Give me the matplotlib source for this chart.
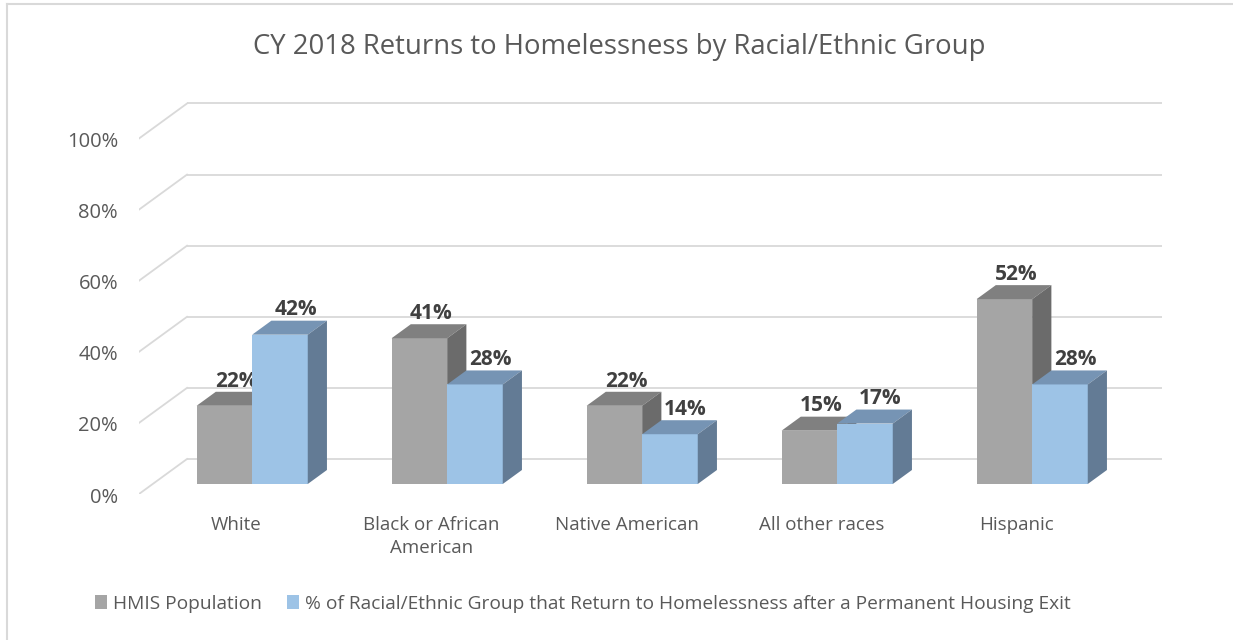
import matplotlib
matplotlib.use("Agg")
import matplotlib.pyplot as plt
from matplotlib.patches import Polygon, Patch

# ---- data ----
categories = ["White", "Black or African\nAmerican", "Native American", "All other races", "Hispanic"]
hmis_population = [22, 41, 22, 15, 52]
returns_pct = [42, 28, 14, 17, 28]
series_names = ["HMIS Population",
                "% of Racial/Ethnic Group that Return to Homelessness after a Permanent Housing Exit"]
yticks = [0, 20, 40, 60, 80, 100]
title = "CY 2018 Returns to Homelessness by Racial/Ethnic Group"

# ---- style ----
FONT = "Open Sans"
TXT = "#595959"
GRID = "#D9D9D9"
gray_cols = ("#A5A5A5", "#808080", "#6B6B6B")   # front, top, side
blue_cols = ("#9DC3E6", "#7694B4", "#637B95")

W, H, DPI = 1233, 640, 100
fig = plt.figure(figsize=(W / DPI, H / DPI), dpi=DPI)
fig.patch.set_facecolor("white")

px_x, px_y = 195.0, 3.555         # pixels per category unit / per percent
left_px, bottom_px, right_px, top_px = 139, 494, 1165, 102
ax = fig.add_axes([left_px / W, 1 - bottom_px / H, (right_px - left_px) / W, (bottom_px - top_px) / H])
ax.set_xlim(0, (right_px - left_px) / px_x)
ax.set_ylim(0, (bottom_px - top_px) / px_y)
ax.axis("off")

# depth projection (full floor depth)
DX = 48 / px_x
DY = 35 / px_y
f_front, f_depth = 0.286, 0.40
dx0, dy0 = f_front * DX, f_front * DY
ddx, ddy = f_depth * DX, f_depth * DY

ncat = len(categories)
xmax_back = ncat + DX
for v in yticks:
    ax.plot([DX, xmax_back], [v + DY, v + DY], color=GRID, lw=1.3, zorder=1, solid_capstyle="butt")
    ax.plot([0, DX], [v, v + DY], color=GRID, lw=1.3, zorder=1)
    ax.text(-21 / px_x, v - 1.0, f"{v}%", ha="right", va="center", fontsize=14.5,
            color=TXT, family=FONT, clip_on=False)

bw = 0.285
gstart = 0.225


def draw_bar(x0, v, cols, z, lab_shift=0.0):
    front, top, side = cols
    xa, xb = x0 + dx0, x0 + bw + dx0
    ax.add_patch(Polygon([(xa, dy0), (xb, dy0), (xb, dy0 + v), (xa, dy0 + v)],
                         closed=True, facecolor=front, edgecolor="none", zorder=z))
    ax.add_patch(Polygon([(xa, dy0 + v), (xb, dy0 + v), (xb + ddx, dy0 + v + ddy), (xa + ddx, dy0 + v + ddy)],
                         closed=True, facecolor=top, edgecolor="none", zorder=z))
    ax.add_patch(Polygon([(xb, dy0), (xb + ddx, dy0 + ddy), (xb + ddx, dy0 + v + ddy), (xb, dy0 + v)],
                         closed=True, facecolor=side, edgecolor="none", zorder=z))
    cx = (xa + xb) / 2 + ddx / 2 + lab_shift
    cy = dy0 + v + ddy / 2 + 5.0
    ax.text(cx, cy, f"{v}%", ha="center", va="center", fontsize=15, fontweight="bold",
            color="#404040", family=FONT, zorder=z + 1, clip_on=False)


for i in range(ncat):
    z = 2 + i * 3
    draw_bar(i + gstart, hmis_population[i], gray_cols, z, lab_shift=2 / px_x)
    draw_bar(i + gstart + bw, returns_pct[i], blue_cols, z + 1, lab_shift=6 / px_x)
    ax.text(i + 0.5, -6.3, categories[i], ha="center", va="top", fontsize=13.5,
            color=TXT, family=FONT, linespacing=1.35, clip_on=False)

# title
fig.text(0.5025, 1 - 47 / H, title, ha="center", va="center", fontsize=19.8, color=TXT, family=FONT)

# legend
handles = [Patch(facecolor=gray_cols[0], edgecolor="none"), Patch(facecolor=blue_cols[0], edgecolor="none")]
leg = fig.legend(handles, series_names, loc="center", bbox_to_anchor=(583 / W, 1 - 604 / H),
                 ncol=2, frameon=False, handlelength=0.65, handleheight=0.75, handletextpad=0.3,
                 columnspacing=1.3, prop={"family": FONT, "size": 13.8})
for t in leg.get_texts():
    t.set_color(TXT)

# chart border (left and top only visible)
fig.add_artist(plt.Line2D([7 / W, 7 / W], [0, 1 - 4 / H], color=GRID, lw=1.5, transform=fig.transFigure))
fig.add_artist(plt.Line2D([7 / W, 1], [1 - 4 / H, 1 - 4 / H], color=GRID, lw=1.5, transform=fig.transFigure))

fig.savefig("out.png", dpi=DPI, facecolor="white")
